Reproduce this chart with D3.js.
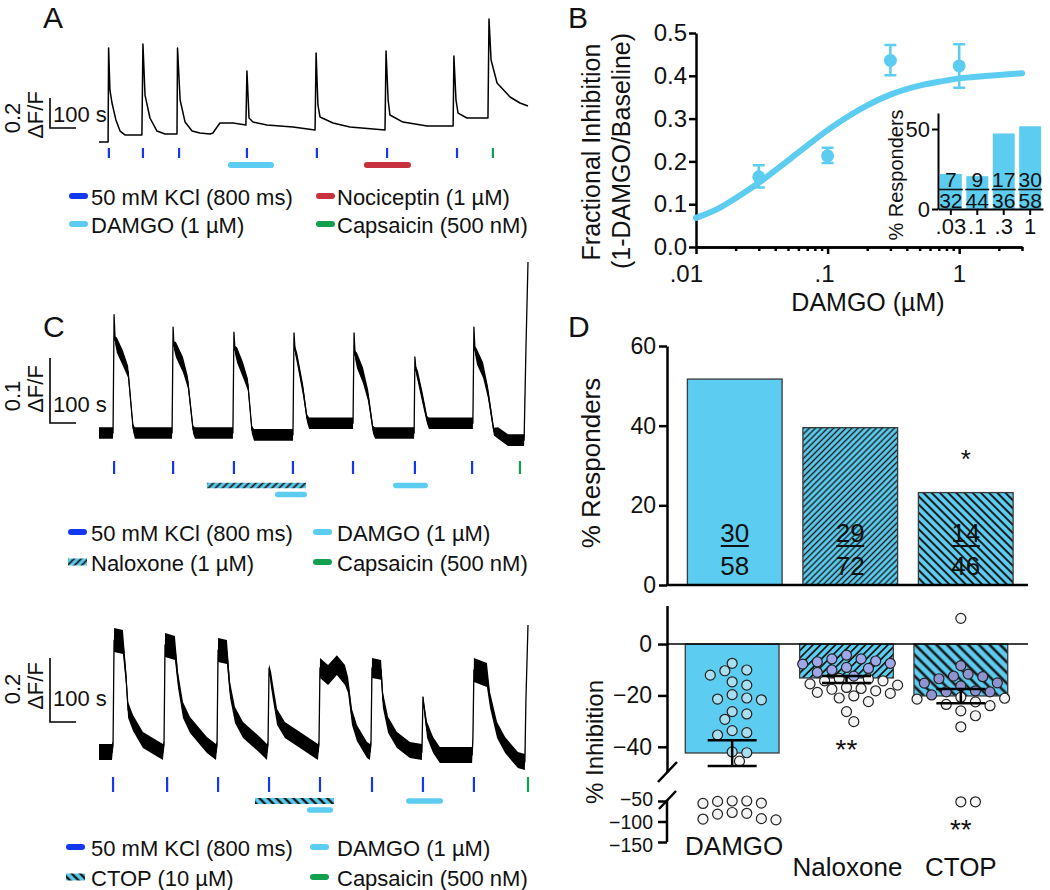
<!DOCTYPE html>
<html><head><meta charset="utf-8">
<script src="https://cdn.jsdelivr.net/npm/d3@7"></script>
<style>
body{margin:0;background:#fff}
svg{font-family:"Liberation Sans",Arial,Helvetica,sans-serif}
</style></head>
<body><svg id="c" width="1050" height="890"></svg>
<script>
// ---------------- DATA ----------------
// Panel A trace: [time (s), dF/F]
const traceA = [[0,0],[35,0],[37,0.627],[42,0.347],[50,0.26],[65,0.147],[81,0.073],[100,0.047],[165,0.047],
[169,0.653],[177,0.313],[196,0.16],[223,0.073],[254,0.053],[300,0.053],
[302,0.627],[312,0.28],[331,0.133],[358,0.073],[388,0.06],[427,0.053],[438,0.06],
[465,0.127],[515,0.127],[565,0.113],[569,0.473],[577,0.16],[592,0.133],[646,0.113],[746,0.1],[831,0.08],
[835,0.593],[842,0.247],[850,0.167],[900,0.127],[965,0.1],[1100,0.08],
[1104,0.607],[1112,0.28],[1119,0.18],[1169,0.133],[1262,0.107],[1362,0.107],
[1365,0.573],[1373,0.28],[1381,0.193],[1415,0.16],[1496,0.16],
[1500,0.82],[1508,0.547],[1531,0.393],[1581,0.3],[1619,0.26],[1650,0.24]];
const kclA = [38,169,308,569,838,1108,1377];
const capsA = [1515];
const damgoA = [[496,673]];
const nociA = [[1019,1200]];

// Panel C (naloxone) trace: [time (s), dF/F, noise amplitude]
const traceC1 = [[0,0,.009],[54,0,.009],[58,0.182,0],[62,0.143,.006],[69,0.135,.012],[92,0.115,.012],[112,0.094,.009],[131,0.008,.006],[138,0,.009],[281,0,.009],
[285,0.163,0],[288,0.135,.006],[296,0.128,.012],[323,0.105,.012],[342,0.078,.009],[362,0.005,.006],[369,0,.009],[515,0,.009],
[519,0.155,0],[523,0.128,.006],[531,0.12,.012],[554,0.097,.012],[573,0.074,.009],[588,0.005,.006],[596,-0.003,.009],[746,-0.003,.009],
[750,0.154,0],[754,0.128,.006],[762,0.115,.009],[785,0.066,.009],[800,0.023,.006],[808,0.015,.009],[977,0.015,.009],
[981,0.154,0],[985,0.12,.006],[992,0.112,.012],[1015,0.089,.012],[1035,0.058,.009],[1054,0.005,.006],[1062,0,.009],[1212,0,.009],
[1215,0.117,0],[1219,0.097,.006],[1227,0.086,.009],[1246,0.051,.009],[1262,0.02,.006],[1269,0.015,.009],[1438,0.015,.009],
[1442,0.163,0],[1446,0.128,.006],[1454,0.117,.012],[1477,0.097,.012],[1496,0.063,.009],[1519,0.002,.006],[1535,0,.009],[1573,-0.011,.009],[1635,-0.011,.009],
[1642,0.128,0],[1650,0.263,0]];
const kclC1 = [58,285,519,746,977,1215,1435];
const capsC1 = [1619];
const naloxC1 = [[415,796]];
const damgoC1 = [[677,800],[1131,1265]];

// Panel C (CTOP) trace
const traceC2 = [[0,0.009,.025],[50,0.009,.025],[54,0.031,.0125],[58,0.359,.0375],[92,0.353,.0375],[104,0.244,.025],[112,0.141,.025],[131,0.1,.025],[169,0.047,.025],[246,0.009,.025],
[250,0.031,.0125],[254,0.344,.0375],[292,0.334,.0375],[304,0.234,.025],[323,0.141,.025],[350,0.094,.025],[415,0.031,.025],[450,0.009,.025],
[454,0.031,.0125],[458,0.328,.0375],[492,0.322,.0375],[504,0.203,.025],[523,0.125,.025],[554,0.078,.025],[619,0.031,.025],[646,0.009,.025],
[650,0.031,.0125],[654,0.272,.0125],[662,0.234,.025],[669,0.197,.025],[685,0.119,.025],[715,0.078,.025],[773,0.047,.025],[842,0.009,.025],
[846,0.031,.0125],[850,0.272,.031],[881,0.25,.031],[915,0.281,.031],[946,0.25,.031],[958,0.219,.025],[973,0.119,.025],[992,0.069,.025],[1031,0.016,.025],[1042,0.009,.025],
[1046,0.031,.0125],[1050,0.272,.031],[1085,0.266,.031],[1092,0.172,.025],[1112,0.094,.025],[1146,0.047,.025],[1196,0.016,.025],[1242,0.009,.025],
[1246,0.181,.006],[1254,0.125,.019],[1262,0.078,.025],[1285,0.031,.025],[1311,0,.025],[1435,0,.025],
[1438,0.047,.0125],[1442,0.266,.0375],[1492,0.25,.0375],[1504,0.172,.025],[1531,0.078,.025],[1562,0.031,.025],[1611,-0.016,.025],[1638,-0.022,.025],
[1642,0.172,0],[1650,0.406,0]];
const kclC2 = [54,262,458,654,850,1050,1246,1442];
const capsC2 = [1650];
const ctopC2 = [[600,904]];
const damgoC2 = [[800,900],[1181,1323]];

// Panel B: concentration-response
const curveConc = [0.01,0.015,0.02,0.03,0.05,0.07,0.1,0.15,0.2,0.3,0.5,0.7,1,1.5,2,3];
const curveInh  = [0.068,0.091,0.114,0.150,0.202,0.237,0.273,0.309,0.331,0.356,0.377,0.386,0.394,0.399,0.402,0.406];
const doseConc = [0.03,0.1,0.3,1];
const doseMean = [0.164,0.213,0.436,0.423];
const doseLow  = [0.139,0.196,0.401,0.372];
const doseHigh = [0.191,0.232,0.472,0.474];
const bTickLabels = [".01",".1","1"];
const insetCats = [".03",".1",".3","1"];
const insetPct = [21.9,20.5,47.2,51.7];
const insetNum = [7,9,17,30];
const insetDen = [32,44,36,58];

// Panel D
const groups = ["DAMGO","Naloxone","CTOP"];
const respPct = [51.7,39.5,23.2];
const respNum = [30,29,14];
const respDen = [58,72,46];
const inhMean = [-42.4,-13.2,-20.2];
const inhErrHi = [-37.4,-12.4,-17.5];
const inhErrLo = [-47.5,-15.2,-23.0];
const dotsDAMGO = [-7.5,-12.1,-10.1,-10.4,-16.0,-14.7,-19.7,-21.4,-21.7,-21.0,-26.3,-27.2,-29.3,-34.5,-35.4,-33.7,-42.0,-42.3,-45.6,
  -50,-51,-55,-56,-50,-80,-78,-82,-93,-96,-94];
const dotsNalox = [-5.8,-6.9,-7.8,-4.3,-5.8,-9.1,-7.5,-6.6,-9.5,-10.1,-12.5,-11.0,
  -13.4,-14.3,-16.0,-14.3,-17.3,-18.2,-20.2,-19.2,-17.6,-16.9,-22.4,-26.3,-30.2,-13.6,-15.5,-18.8,-21.0];
const dotsCTOP = [10,-8.4,-12.5,-13.5,-12.7,-11.7,-15.2,-16.3,-18.6,-19.8,-18.6,-18.2,-15.1,
  -21.4,-20.7,-24.0,-21.1,-26.0,-27.9,-32.2,-22.5,-23.5,-52,-52];
const dotsAll = [dotsDAMGO, dotsNalox, dotsCTOP];
const lowerTicks = [-50,-100,-150];

// ---------------- STYLE ----------------
const BLUE = "#5ccdf0", KCL = "#1438f0", RED = "#c8323f", GREEN = "#13a04e";
const svg = d3.select("#c");
const defs = svg.append("defs");
function hatch(id, period, sw, angle) {
  const p = defs.append("pattern").attr("id", id).attr("patternUnits", "userSpaceOnUse")
    .attr("width", period).attr("height", period).attr("patternTransform", `rotate(${angle})`);
  p.append("rect").attr("width", period).attr("height", period).attr("fill", BLUE);
  p.append("line").attr("x1", period/2).attr("x2", period/2).attr("y1", -1).attr("y2", period+1)
    .attr("stroke", "#1a1a1a").attr("stroke-width", sw);
}
hatch("hNalTop", 4.3, 1.4, 45);
hatch("hCtopTop", 5.8, 2.0, -45);
hatch("hNalBot", 5.3, 1.8, 45);
hatch("hCtopBot", 7.5, 2.6, -45);
hatch("hNalTr", 5, 1.8, 45);
hatch("hCtopTr", 6, 2.4, -45);

function txt(g, x, y, s, size, anchor, rot) {
  const t = g.append("text").attr("x", x).attr("y", y).attr("font-size", size)
    .attr("text-anchor", anchor || "start").attr("fill", "#111").text(s);
  if (rot) t.attr("transform", `rotate(${rot},${x},${y})`);
  return t;
}

// ---------------- TRACES ----------------
function drawTrace(g, data, x, y, lw) {
  const area = d3.area().x(d => x(d[0])).y0(d => y(d[1] - (d[2] || 0))).y1(d => y(d[1] + (d[2] || 0)));
  g.append("path").attr("d", area(data)).attr("fill", "#000");
  g.append("path").attr("d", d3.line().x(d => x(d[0])).y(d => y(d[1]))(data))
    .attr("fill", "none").attr("stroke", "#000").attr("stroke-width", lw).attr("stroke-linejoin", "round");
}
function ticks(g, x, arr, y1, y2, color) {
  g.selectAll(null).data(arr).enter().append("line")
    .attr("x1", d => x(d)).attr("x2", d => x(d)).attr("y1", y1).attr("y2", y2)
    .attr("stroke", color).attr("stroke-width", 2.2);
}
function roundBars(g, x, arr, yc, color, w) {
  g.selectAll(null).data(arr).enter().append("line")
    .attr("x1", d => x(d[0]) + w/2).attr("x2", d => x(d[1]) - w/2).attr("y1", yc).attr("y2", yc)
    .attr("stroke", color).attr("stroke-width", w).attr("stroke-linecap", "round");
}
function hatchBars(g, x, arr, yc, pat, h) {
  g.selectAll(null).data(arr).enter().append("rect")
    .attr("x", d => x(d[0])).attr("width", d => x(d[1]) - x(d[0])).attr("y", yc - h/2).attr("height", h)
    .attr("fill", `url(#${pat})`);
}
function scaleBar(g, x, y, x0, yTop, amp, ampLabel, lblY, yLbls) {
  const h = y(0) - y(amp), w = x(100) - x(0);
  g.append("path").attr("d", `M${x0},${yTop}V${yTop + h}H${x0 + w}`).attr("fill", "none")
    .attr("stroke", "#000").attr("stroke-width", 1.6);
  txt(g, x0 + 3, lblY, "100 s", 22);
  txt(g, 20, yLbls[0], ampLabel, 22, "middle", -90);
  txt(g, 43, yLbls[1], "ΔF/F", 22, "middle", -90);
}
function legend(g, items, rows, colSw, colTx) {
  items.forEach(it => {
    const yc = rows[it.row], sx = colSw[it.col];
    if (it.pat) {
      g.append("rect").attr("x", sx).attr("y", yc - 3.5).attr("width", 19).attr("height", 7).attr("fill", `url(#${it.pat})`);
    } else {
      g.append("line").attr("x1", sx + 3).attr("x2", sx + 16).attr("y1", yc).attr("y2", yc)
        .attr("stroke", it.color).attr("stroke-width", 6).attr("stroke-linecap", "round");
    }
    txt(g, colTx[it.col], yc + 8.5, it.label, 22);
  });
}

// Panel A
{
  const g = svg.append("g");
  const x = d3.scaleLinear().domain([0, 1650]).range([99, 528]);
  const y = d3.scaleLinear().domain([0, 1]).range([142, -8]);
  drawTrace(g, traceA, x, y, 1.5);
  ticks(g, x, kclA, 148, 158, KCL);
  ticks(g, x, capsA, 148, 158, GREEN);
  roundBars(g, x, damgoA, 165, BLUE, 6);
  roundBars(g, x, nociA, 165, RED, 6);
  scaleBar(g, x, y, 50, 98, 0.2, "0.2", 122, [118, 115]);
  legend(g, [
    {label: "50 mM KCl (800 ms)", color: KCL, row: 0, col: 0},
    {label: "Nociceptin (1 µM)", color: RED, row: 0, col: 1},
    {label: "DAMGO (1 µM)", color: BLUE, row: 1, col: 0},
    {label: "Capsaicin (500 nM)", color: GREEN, row: 1, col: 1}
  ], [196, 224], [69, 316], [91, 337]);
  txt(g, 43, 28, "A", 30);
}
// Panel C top
{
  const g = svg.append("g");
  const x = d3.scaleLinear().domain([0, 1650]).range([99, 528]);
  const y = d3.scaleLinear().domain([0, 1]).range([433, -217]);
  drawTrace(g, traceC1, x, y, 1.3);
  ticks(g, x, kclC1, 461, 474, KCL);
  ticks(g, x, capsC1, 461, 474, GREEN);
  hatchBars(g, x, naloxC1, 485.5, "hNalTr", 5.5);
  roundBars(g, x, damgoC1.filter(d => d[0] >= naloxC1[0][0] && d[0] <= naloxC1[0][1]), 494.5, BLUE, 5.5);
  roundBars(g, x, damgoC1.filter(d => d[0] > naloxC1[0][1]), 485.5, BLUE, 5.5);
  scaleBar(g, x, y, 50, 358, 0.1, "0.1", 412, [396, 389]);
  legend(g, [
    {label: "50 mM KCl (800 ms)", color: KCL, row: 0, col: 0},
    {label: "DAMGO (1 µM)", color: BLUE, row: 0, col: 1},
    {label: "Naloxone (1 µM)", pat: "hNalTr", row: 1, col: 0},
    {label: "Capsaicin (500 nM)", color: GREEN, row: 1, col: 1}
  ], [532, 562], [68, 313], [91, 337]);
  txt(g, 43, 337, "C", 30);
}
// Panel C bottom
{
  const g = svg.append("g");
  const x = d3.scaleLinear().domain([0, 1650]).range([99, 528]);
  const y = d3.scaleLinear().domain([0, 1]).range([755, 435]);
  drawTrace(g, traceC2, x, y, 1.3);
  ticks(g, x, kclC2, 777, 792, KCL);
  ticks(g, x, capsC2, 777, 792, GREEN);
  hatchBars(g, x, ctopC2, 801, "hCtopTr", 6);
  roundBars(g, x, damgoC2.filter(d => d[0] >= ctopC2[0][0] && d[0] <= ctopC2[0][1]), 810, BLUE, 5.5);
  roundBars(g, x, damgoC2.filter(d => d[0] > ctopC2[0][1]), 801, BLUE, 5.5);
  scaleBar(g, x, y, 50, 658, 0.2, "0.2", 706, [689, 686]);
  legend(g, [
    {label: "50 mM KCl (800 ms)", color: KCL, row: 0, col: 0},
    {label: "DAMGO (1 µM)", color: BLUE, row: 0, col: 1},
    {label: "CTOP (10 µM)", pat: "hCtopTr", row: 1, col: 0},
    {label: "Capsaicin (500 nM)", color: GREEN, row: 1, col: 1}
  ], [847, 877], [66, 310], [91, 337]);
}

function styleAxis(a, sw, fs) {
  a.selectAll("path,line").attr("stroke", "#000").attr("stroke-width", sw);
  a.selectAll("text").attr("font-size", fs).attr("fill", "#111")
    .attr("font-family", '"Liberation Sans",Arial,Helvetica,sans-serif');
  a.attr("font-family", null);
}

// ---------------- PANEL B ----------------
{
  const g = svg.append("g");
  const x = d3.scaleLog().domain([0.01, 3]).range([696, 1022]);
  const y = d3.scaleLinear().domain([0, 0.5]).range([247, 33]);
  const ya = g.append("g").attr("transform", "translate(696,0)")
    .call(d3.axisLeft(y).tickValues([0, .1, .2, .3, .4, .5]).tickFormat(d3.format(".1f")).tickSize(7).tickSizeOuter(0).tickPadding(2));
  styleAxis(ya, 2.5, 24);
  const minor = x.ticks().filter(v => ![0.01, 0.1, 1].includes(+v.toPrecision(3)));
  const xm = g.append("g").attr("transform", "translate(0,247)")
    .call(d3.axisBottom(x).tickValues(minor).tickFormat("").tickSize(4).tickSizeOuter(0));
  styleAxis(xm, 2.5, 24);
  const xa = g.append("g").attr("transform", "translate(0,247)")
    .call(d3.axisBottom(x).tickValues([0.01, 0.1, 1]).tickFormat((d, i) => bTickLabels[i]).tickSize(7).tickSizeOuter(0).tickPadding(11));
  styleAxis(xa, 2.5, 24);
  xa.selectAll("text").attr("text-anchor", "end").attr("dx", 6.5);
  txt(g, 600, 152, "Fractional Inhibition", 25, "middle", -90);
  txt(g, 630, 151, "(1-DAMGO/Baseline)", 25, "middle", -90);
  txt(g, 868, 311, "DAMGO (µM)", 25, "middle");
  // curve
  g.append("path").attr("d", d3.line().curve(d3.curveMonotoneX).x(d => x(d[0])).y(d => y(d[1]))(curveConc.map((c, i) => [c, curveInh[i]])))
    .attr("fill", "none").attr("stroke", BLUE).attr("stroke-width", 6).attr("stroke-linecap", "round");
  // error bars + points
  doseConc.forEach((c, i) => {
    const cx = x(c);
    g.append("path").attr("d", `M${cx},${y(doseLow[i])}V${y(doseHigh[i])}M${cx-6},${y(doseLow[i])}H${cx+6}M${cx-6},${y(doseHigh[i])}H${cx+6}`)
      .attr("stroke", BLUE).attr("stroke-width", 2.5).attr("fill", "none");
    g.append("circle").attr("cx", cx).attr("cy", y(doseMean[i])).attr("r", 6.5).attr("fill", BLUE);
  });
  // inset
  const xi = d3.scaleBand().domain(insetCats).range([938, 1043]).paddingInner(0.17).paddingOuter(0.07);
  const yi = d3.scaleLinear().domain([0, 60]).range([209, 113]);
  g.selectAll(null).data(insetPct).enter().append("rect")
    .attr("x", (d, i) => xi(insetCats[i])).attr("width", xi.bandwidth())
    .attr("y", d => yi(d)).attr("height", d => yi(0) - yi(d)).attr("fill", BLUE);
  insetCats.forEach((c, i) => {
    const cx = xi(c) + xi.bandwidth()/2;
    txt(g, cx, yi(0) - 22, insetNum[i], 21, "middle");
    txt(g, cx, yi(0) - 1, insetDen[i], 21, "middle");
    g.append("line").attr("x1", xi(c) - 1).attr("x2", xi(c) + xi.bandwidth() + 1)
      .attr("y1", yi(0) - 19.5).attr("y2", yi(0) - 19.5).attr("stroke", "#111").attr("stroke-width", 1.6);
  });
  const yia = g.append("g").attr("transform", "translate(938,0)")
    .call(d3.axisLeft(yi).tickValues([0, 50]).tickSize(6).tickSizeOuter(0).tickPadding(2));
  styleAxis(yia, 2, 22);
  const xia = g.append("g").attr("transform", "translate(0,209)")
    .call(d3.axisBottom(xi).tickSize(6).tickSizeOuter(0).tickPadding(3));
  styleAxis(xia, 2, 22);
  txt(g, 903, 175, "% Responders", 20, "middle", -90);
  txt(g, 568, 28, "B", 30);
}

// ---------------- PANEL D ----------------
{
  const g = svg.append("g");
  const xt = d3.scaleBand().domain(groups).range([677, 1023.5]).paddingInner(0.18).paddingOuter(0.09);
  const xb = d3.scaleBand().domain(groups).range([675, 1018]).paddingInner(0.18).paddingOuter(0.09);
  const yt = d3.scaleLinear().domain([0, 60]).range([585, 346]);
  const fillTop = ["#5ccdf0", "url(#hNalTop)", "url(#hCtopTop)"];
  const fillBot = ["#5ccdf0", "url(#hNalBot)", "url(#hCtopBot)"];
  // top bars
  g.selectAll(null).data(respPct).enter().append("rect")
    .attr("x", (d, i) => xt(groups[i])).attr("width", xt.bandwidth())
    .attr("y", d => yt(d)).attr("height", d => yt(0) - yt(d))
    .attr("fill", (d, i) => fillTop[i]).attr("stroke", "#3a3a3a").attr("stroke-width", 1.3);
  groups.forEach((gr, i) => {
    const cx = xt(gr) + xt.bandwidth()/2;
    txt(g, cx, yt(0) - 43, respNum[i], 26, "middle");
    g.append("line").attr("x1", cx - 14).attr("x2", cx + 14).attr("y1", yt(0) - 39).attr("y2", yt(0) - 39)
      .attr("stroke", "#111").attr("stroke-width", 2);
    txt(g, cx, yt(0) - 10, respDen[i], 26, "middle");
  });
  txt(g, xt("CTOP") + xt.bandwidth()/2, 468, "*", 26, "middle");
  const yta = g.append("g").attr("transform", "translate(667,0)")
    .call(d3.axisLeft(yt).tickValues([0, 20, 40, 60]).tickSize(8).tickSizeOuter(0).tickPadding(3));
  styleAxis(yta, 2.5, 23);
  g.append("line").attr("x1", 666).attr("x2", 1028).attr("y1", yt(0)).attr("y2", yt(0)).attr("stroke", "#000").attr("stroke-width", 2.5);
  txt(g, 600, 463, "% Responders", 26, "middle", -90);
  txt(g, 568, 337, "D", 30);

  // bottom: broken axis
  const yu = d3.scaleLinear().domain([-49.8, 15]).range([772, 605.5]);
  const yl = d3.scaleLinear().domain([-150, -50]).range([842, 801]);
  const yv = v => v >= -49.8 ? yu(v) : yl(v);
  g.selectAll(null).data(inhMean).enter().append("rect")
    .attr("x", (d, i) => xb(groups[i])).attr("width", xb.bandwidth())
    .attr("y", yu(0)).attr("height", d => yu(d) - yu(0))
    .attr("fill", (d, i) => fillBot[i]).attr("stroke", "#3a3a3a").attr("stroke-width", 1.3);
  g.append("line").attr("x1", 667).attr("x2", 1028).attr("y1", yu(0)).attr("y2", yu(0)).attr("stroke", "#000").attr("stroke-width", 1.6);
  const dotFill = ["#a9ddf0", "#9ea8e8", "#8f93cf"];
  const r = 5;
  groups.forEach((gr, gi) => {
    const cx = xb(gr) + xb.bandwidth()/2;
    const pts = dotsAll[gi].map(v => ({v, y: yv(v)})).sort((a, b) => a.y - b.y);
    const placed = [];
    pts.forEach(p => {
      for (let k = 0; k < 80; k++) {
        const off = k === 0 ? 0 : (k % 2 ? 1 : -1) * Math.ceil(k/2) * 7.3;
        const px = cx + off;
        if (placed.every(q => Math.hypot(q.x - px, q.y - p.y) >= 2*r + 0.4)) { p.x = px; placed.push(p); break; }
      }
    });
    g.selectAll(null).data(placed).enter().append("circle")
      .attr("cx", d => d.x).attr("cy", d => d.y).attr("r", r)
      .attr("fill", d => (d.v < 0 && d.v >= inhMean[gi]) ? dotFill[gi] : "#f4f4f4")
      .attr("stroke", "#222").attr("stroke-width", 1.2);
    g.append("path").attr("d", `M${cx},${yu(inhErrHi[gi])}V${yu(inhErrLo[gi])}M${cx-24.5},${yu(inhErrHi[gi])}H${cx+24.5}M${cx-24.5},${yu(inhErrLo[gi])}H${cx+24.5}`)
      .attr("stroke", "#000").attr("stroke-width", 2.5).attr("fill", "none");
  });
  txt(g, xb("Naloxone") + xb.bandwidth()/2, 759, "**", 28, "middle");
  txt(g, xb("CTOP") + xb.bandwidth()/2, 839, "**", 28, "middle");
  const yua = g.append("g").attr("transform", "translate(667,0)")
    .call(d3.axisLeft(yu).tickValues([0, -20, -40]).tickSize(9).tickSizeOuter(0).tickPadding(6));
  styleAxis(yua, 2.5, 23);
  const yla = g.append("g").attr("transform", "translate(667,0)")
    .call(d3.axisLeft(yl).tickValues(lowerTicks).tickSize(9).tickSizeOuter(0).tickPadding(5));
  styleAxis(yla, 2.5, 19.5);
  // spread the crowded lower labels a little (as in the reference)
  const nudge = {"-50": -1.5, "-100": 0.5, "-150": 3};
  yla.selectAll(".tick text").attr("y", d => nudge[String(d)] || 0);
  yla.select(".domain").attr("d", `M0,${yl(-47)}V${yl(-150)}`);
  g.append("line").attr("x1", 677).attr("y1", 762).attr("x2", 658).attr("y2", 782).attr("stroke", "#000").attr("stroke-width", 2.5);
  g.append("line").attr("x1", 676).attr("y1", 791).attr("x2", 659).attr("y2", 809).attr("stroke", "#000").attr("stroke-width", 2.5);
  txt(g, 603, 742, "% Inhibition", 24, "middle", -90);
  txt(g, xb("DAMGO") + xb.bandwidth()/2 + 2, 855, "DAMGO", 26, "middle");
  txt(g, xb("Naloxone") + xb.bandwidth()/2 + 1, 876, "Naloxone", 26, "middle");
  txt(g, xb("CTOP") + xb.bandwidth()/2, 876, "CTOP", 26, "middle");
}
</script></body></html>
